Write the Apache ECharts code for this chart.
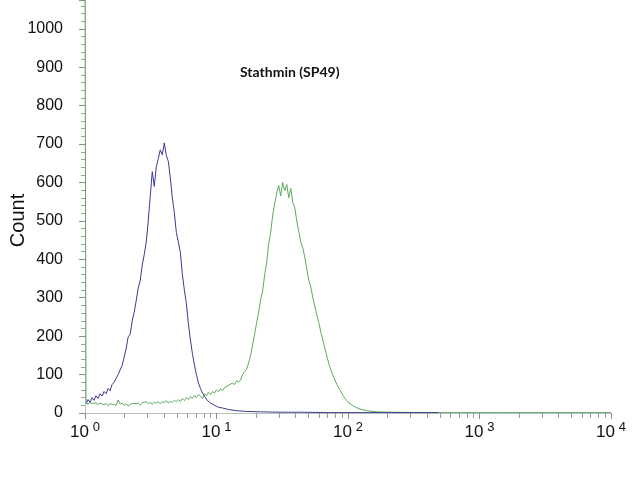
<!DOCTYPE html>
<html>
<head>
<meta charset="utf-8">
<script src="https://cdn.jsdelivr.net/npm/echarts@6/dist/echarts.min.js"></script>
<style>
  html, body { margin: 0; padding: 0; background: #fff; }
  #chart { width: 640px; height: 480px; }
</style>
</head>
<body>
<div id="chart"></div>
<script>
// Fluorescence channels (log-spaced intensities)
const channels = [
  1.018, 1.054, 1.092, 1.131, 1.171, 1.213, 1.257, 1.302, 1.348, 1.396,
  1.447, 1.498, 1.552, 1.607, 1.665, 1.725, 1.786, 1.850, 1.916, 1.985,
  2.056, 2.129, 2.206, 2.285, 2.366, 2.451, 2.539, 2.630, 2.724, 2.821,
  2.922, 3.027, 3.135, 3.247, 3.363, 3.483, 3.608, 3.737, 3.871, 4.009,
  4.153, 4.301, 4.455, 4.614, 4.779, 4.950, 5.128, 5.311, 5.501, 5.698,
  5.902, 6.113, 6.331, 6.558, 6.792, 7.035, 7.287, 7.548, 7.818, 8.097,
  8.387, 8.687, 8.998, 9.320, 9.653, 9.998, 10.36, 10.73, 11.11, 11.51,
  11.92, 12.35, 12.79, 13.24, 13.72, 14.21, 14.72, 15.24, 15.79, 16.35,
  16.94, 17.54, 18.17, 18.82, 19.49, 20.19, 20.91, 21.66, 22.44, 23.24,
  24.07, 24.93, 25.82, 26.75, 27.70, 28.70, 29.72, 30.79, 31.89, 33.03,
  34.21, 35.43, 36.70, 38.01, 39.37, 40.78, 42.24, 43.75, 45.31, 46.94,
  48.61, 50.35, 52.15, 54.02, 55.95, 57.95, 60.02, 62.17, 64.39, 66.69,
  69.08, 71.55, 74.11, 76.76, 79.50, 82.35, 85.29, 88.34, 91.50, 94.77,
  98.16, 101.7, 105.3
];

// Isotype control (blue)
const blueCounts = [
  24, 35, 28, 40, 33, 45, 38, 50, 44, 56,
  50, 64, 58, 74, 80, 90, 100, 112, 124, 145,
  168, 198, 205, 240, 262, 292, 325, 345, 385, 412,
  445, 500, 565, 628, 590, 640, 662, 685, 672, 703,
  670, 655, 612, 560, 522, 470, 445, 418, 360, 320,
  285, 232, 190, 155, 125, 100, 78, 64, 52, 44,
  36, 30, 26
];
const blueTailX = [9.653, 10.36, 11.11, 12.35, 14.21, 16.94, 21.66, 30.79, 43.75, 74.11, 126, 254, 485];
const blueTailCounts = [20, 15, 13, 9, 6, 4, 3, 2, 2, 1, 1, 1, 1];

// Stathmin (SP49) stained (green)
const greenStartX = [1.0];
const greenStartCounts = [1100];
const greenCounts = [
  30, 22, 28, 24, 20, 27, 22, 26, 30, 21,
  25, 19, 24, 28, 22, 20, 34, 23, 26, 20,
  24, 18, 22, 25, 20, 24, 26, 21, 27, 24,
  29, 25, 27, 23, 28, 26, 30, 24, 29, 27,
  32, 26, 30, 28, 33, 29, 35, 30, 38, 32,
  40, 35, 42, 38, 46, 40, 48, 44, 38, 50,
  45, 54, 48, 56, 52, 60, 55, 64, 58, 66,
  62, 72, 68, 78, 74, 84, 80, 86, 100, 108,
  114, 130, 150, 178, 205, 235, 262, 295, 318, 360,
  392, 440, 470, 515, 545, 572, 592, 565, 600, 578,
  595, 560, 585, 548, 535, 500, 472, 445, 430, 405,
  375, 345, 328, 300, 278, 255, 235, 210, 190, 168,
  148, 128, 112, 98, 86, 74, 64, 56, 46, 38,
  32, 26, 22
];
const greenTailX = [113.0, 121.2, 130.0, 144.6, 166.2, 212, 360, 728, 1475, 3540, 10000];
const greenTailCounts = [16, 11, 8, 5, 3, 2, 1, 1, 1, 1, 1];

const xTicks = [1, 10, 100, 1000, 10000];
const xMinorTicks = [
  2, 3, 4, 5, 6, 7, 8, 9,
  20, 30, 40, 50, 60, 70, 80, 90,
  200, 300, 400, 500, 600, 700, 800, 900,
  2000, 3000, 4000, 5000, 6000, 7000, 8000, 9000
];
const yTicks = [0, 100, 200, 300, 400, 500, 600, 700, 800, 900, 1000];

function pairs(xs, ys) {
    return xs.map((x, i) => [x, ys[i]]);
}

const blueData = pairs(channels.slice(0, blueCounts.length), blueCounts)
    .concat(pairs(blueTailX, blueTailCounts));
const greenData = pairs(greenStartX, greenStartCounts)
    .concat(pairs(channels, greenCounts))
    .concat(pairs(greenTailX, greenTailCounts));

const chart = echarts.init(document.getElementById('chart'));

const option = {
    backgroundColor: '#fff',
    animation: false,
    title: {
        text: 'Stathmin (SP49)',
        left: 240,
        top: 65,
        padding: 0,
        textStyle: {
            fontFamily: 'Lato',
            fontWeight: 'bold',
            fontSize: 14,
            color: '#111'
        }
    },
    grid: {
        left: 85,
        right: 29,
        top: 0,
        bottom: 67,
        containLabel: false,
        outerBoundsMode: 'none'
    },
    xAxis: [
        {
            type: 'log',
            logBase: 10,
            min: xTicks[0],
            max: xTicks[xTicks.length - 1],
            position: 'bottom',
            splitLine: { show: false },
            axisLine: { lineStyle: { color: '#b8c2bc', width: 1 } },
            axisTick: { show: true, length: 6, lineStyle: { color: '#8c8c8c' } },
            axisLabel: {
                margin: 8,
                formatter: function (v) {
                    const exp = Math.round(Math.log10(v));
                    return '{b|10}{s|' + exp + '}';
                },
                rich: {
                    b: { fontFamily: 'Liberation Sans', fontSize: 17, color: '#111' },
                    s: { fontFamily: 'Liberation Sans', fontSize: 13, color: '#111', padding: [0, 0, 9, 4] }
                }
            }
        },
        // same scale in decades, only to carry the 2..9 minor ticks
        {
            type: 'value',
            min: 0,
            max: Math.log10(xTicks[xTicks.length - 1]),
            position: 'bottom',
            splitLine: { show: false },
            axisLine: { show: true, lineStyle: { color: 'rgba(0,0,0,0)' } },
            axisTick: {
                show: true,
                length: 5,
                customValues: xMinorTicks.map(Math.log10),
                lineStyle: { color: '#999999' }
            },
            axisLabel: { show: false }
        }
    ],
    yAxis: {
        type: 'value',
        min: yTicks[0],
        max: 1075,
        interval: 100,
        name: 'Count',
        nameLocation: 'middle',
        nameGap: 57,
        nameMoveOverlap: false,
        nameTextStyle: {
            fontFamily: 'Liberation Sans',
            fontSize: 20,
            color: '#111',
            padding: [0, 28, 0, 0]
        },
        splitLine: { show: false },
        axisLine: { show: true, lineStyle: { color: '#b9c9c0', width: 1 } },
        axisTick: { show: true, length: 6, lineStyle: { color: '#8c8c8c' } },
        minorTick: { show: true, splitNumber: 5, length: 4, lineStyle: { color: '#a0a0a0' } },
        axisLabel: {
            margin: 22,
            showMaxLabel: false,
            fontFamily: 'Liberation Sans',
            fontSize: 16,
            color: '#111',
            formatter: function (v) {
                return String(v);
            }
        }
    },
    series: [
        {
            name: 'Control',
            type: 'line',
            xAxisIndex: 0,
            data: blueData,
            showSymbol: false,
            lineStyle: { color: '#3b3a92', width: 1 },
            z: 3
        },
        {
            name: 'Stathmin',
            type: 'line',
            xAxisIndex: 0,
            data: greenData,
            showSymbol: false,
            clip: true,
            lineStyle: { color: '#62a862', width: 1 },
            z: 2
        }
    ]
};

chart.setOption(option);
</script>
</body>
</html>
